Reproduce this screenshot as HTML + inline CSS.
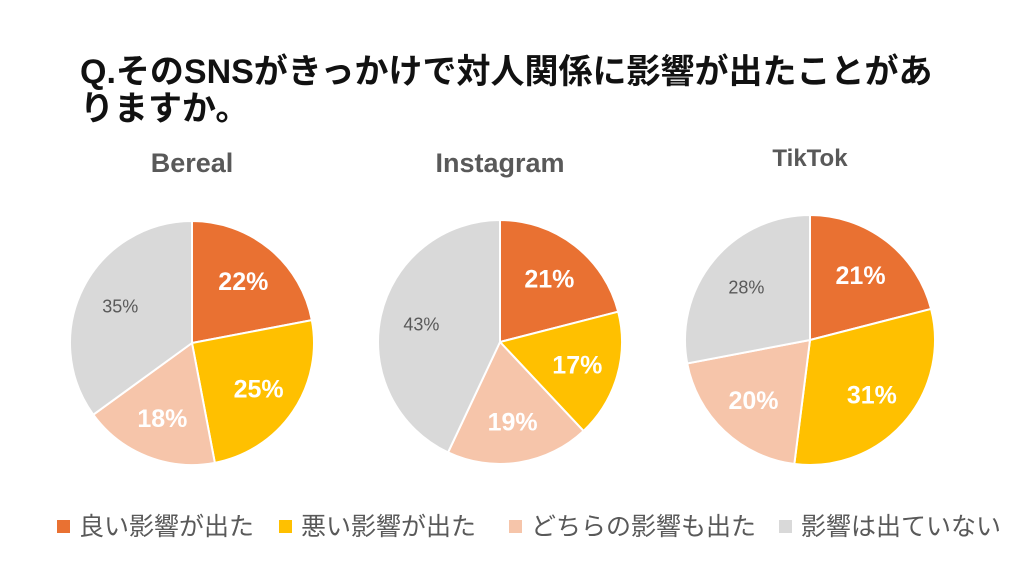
<!DOCTYPE html>
<html><head><meta charset="utf-8">
<style>
body{margin:0;width:1024px;height:576px;background:#fff;overflow:hidden;font-family:"Liberation Sans","Noto Sans CJK JP",sans-serif;}
svg{display:block}
</style></head>
<body>
<svg id="chart" width="1024" height="576">
<text x="80" y="83" font-size="34" font-weight="bold" fill="#111" font-family="Liberation Sans, Noto Sans CJK JP, sans-serif">Q.そのSNSがきっかけで対人関係に影響が出たことがあ</text>
<text x="80" y="120" font-size="34" font-weight="bold" fill="#111" font-family="Liberation Sans, Noto Sans CJK JP, sans-serif">りますか。</text>
<g id="pies"></g>
<g id="legend"></g>
</svg>
<script>
const platforms = ["Bereal","Instagram","TikTok"];
const categories = ["良い影響が出た","悪い影響が出た","どちらの影響も出た","影響は出ていない"];
const bereal = [22,25,18,35];
const instagram = [21,17,19,43];
const tiktok = [21,31,20,28];
const series = [bereal, instagram, tiktok];
const colors = ["#E97132","#FFC000","#F6C5AA","#D9D9D9"];
const NS="http://www.w3.org/2000/svg";
const layout=[{cx:192,cy:343,r:122,ty:172,fs:27},{cx:500,cy:342,r:122,ty:172,fs:27},{cx:810,cy:340,r:125,ty:166,fs:24}];
const pies=document.getElementById('pies');
function mk(t,a){const e=document.createElementNS(NS,t);for(const k in a)e.setAttribute(k,a[k]);return e;}
series.forEach((vals,pi)=>{
  const L=layout[pi];const tot=vals.reduce((a,b)=>a+b,0);
  const title=mk('text',{x:L.cx,y:L.ty,'text-anchor':'middle','font-size':L.fs,'font-weight':'bold',fill:'#595959'});
  title.textContent=platforms[pi];
  
  
  pies.appendChild(title);
  let a0=-Math.PI/2;
  vals.forEach((v,i)=>{
    const a1=a0+v/tot*2*Math.PI;
    const x0=L.cx+L.r*Math.cos(a0),y0=L.cy+L.r*Math.sin(a0),x1=L.cx+L.r*Math.cos(a1),y1=L.cy+L.r*Math.sin(a1);
    const p=mk('path',{d:`M${L.cx},${L.cy}L${x0},${y0}A${L.r},${L.r} 0 ${a1-a0>Math.PI?1:0} 1 ${x1},${y1}Z`,fill:colors[i],stroke:'#fff','stroke-width':2});
    
    
    pies.appendChild(p);
    const am=(a0+a1)/2,rr=L.r*0.66;
    const grey=i===3;
    const t=mk('text',{x:L.cx+rr*Math.cos(am),y:L.cy+rr*Math.sin(am)+(grey?6:9),'text-anchor':'middle','font-size':grey?18:25,'font-weight':grey?'normal':'bold',fill:grey?'#595959':'#fff'});
    t.textContent=v+'%';
    
    
    pies.appendChild(t);
    a0=a1;
  });
});
const lg=document.getElementById('legend');
const lx=[57,279,509,779];
categories.forEach((c,i)=>{
  const g=mk('g',{});
  
  
  g.appendChild(mk('rect',{x:lx[i],y:520,width:13,height:13,fill:colors[i]}));
  const t=mk('text',{x:lx[i]+22,y:535,'font-size':25,fill:'#595959'});
  t.textContent=c;g.appendChild(t);lg.appendChild(g);
});
</script>
</body></html>
